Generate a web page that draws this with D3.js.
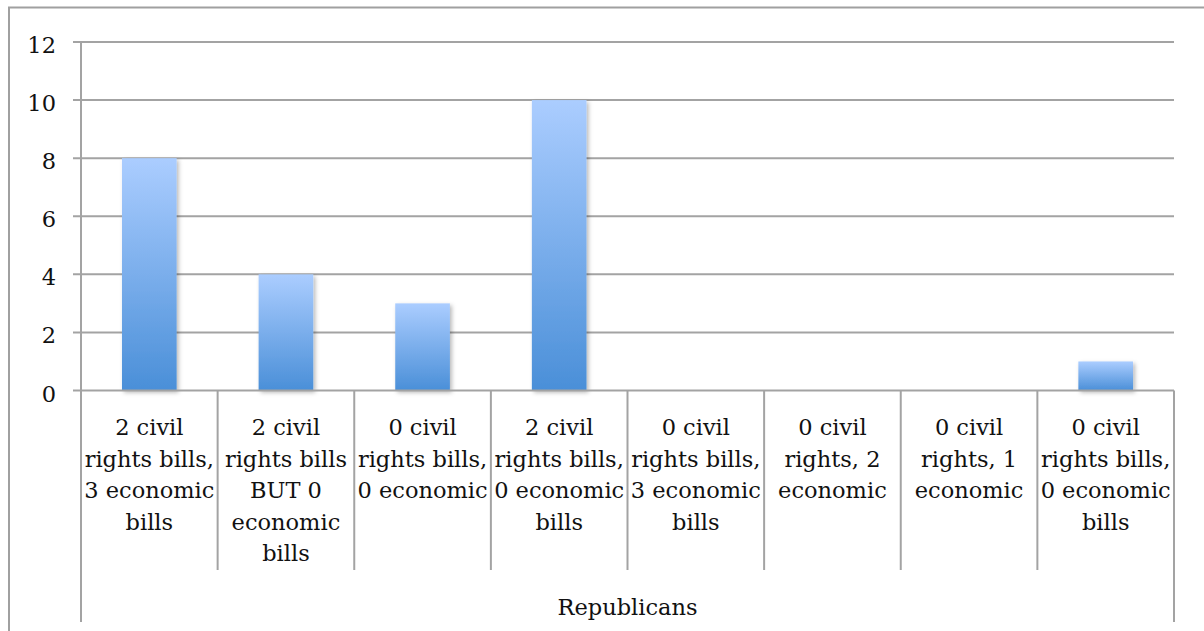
<!DOCTYPE html>
<html>
<head>
<meta charset="utf-8">
<script src="https://cdn.jsdelivr.net/npm/d3@7"></script>
<style>
  html, body { margin: 0; padding: 0; background: #fff; }
  svg { display: block; }
  text { font-family: "DejaVu Serif", serif; fill: #111; }
</style>
</head>
<body>
<svg id="chart" width="1204" height="631"></svg>
<script>
// Category labels, one array of lines per category
const categories = [
  ["2 civil", "rights bills,", "3 economic", "bills"],
  ["2 civil", "rights bills", "BUT 0", "economic", "bills"],
  ["0 civil", "rights bills,", "0 economic"],
  ["2 civil", "rights bills,", "0 economic", "bills"],
  ["0 civil", "rights bills,", "3 economic", "bills"],
  ["0 civil", "rights, 2", "economic"],
  ["0 civil", "rights, 1", "economic"],
  ["0 civil", "rights bills,", "0 economic", "bills"]
];
const values = [8, 4, 3, 10, 0, 0, 0, 1];
const groupLabel = "Republicans";
const yTicks = [0, 2, 4, 6, 8, 10, 12];

const svg = d3.select("#chart");
const plotLeft = 81, plotRight = 1174, plotTop = 42, plotBottom = 390.5;
const gridColor = "#a3a3a3";

// Outer frame
svg.append("rect")
  .attr("x", 9).attr("y", 7.5)
  .attr("width", 1220).attr("height", 660)
  .attr("fill", "none").attr("stroke", "#a0a0a0").attr("stroke-width", 2);

const keys = categories.map((c, i) => i);
const x = d3.scaleBand().domain(keys).range([plotLeft, plotRight])
  .paddingInner(0.6).paddingOuter(0.3);
const xc = d3.scaleBand().domain(keys).range([plotLeft, plotRight]).padding(0);
const y = d3.scaleLinear().domain([0, 12]).range([plotBottom, plotTop]);

// Gradient and shadow for bars
const defs = svg.append("defs");
const grad = defs.append("linearGradient").attr("id", "barGrad")
  .attr("x1", 0).attr("y1", 0).attr("x2", 0).attr("y2", 1);
grad.append("stop").attr("offset", "0%").attr("stop-color", "#abcdff");
grad.append("stop").attr("offset", "100%").attr("stop-color", "#4a8fd8");
const shadow = defs.append("filter").attr("id", "shadow")
  .attr("x", "-20%").attr("y", "-20%").attr("width", "140%").attr("height", "140%");
shadow.append("feDropShadow")
  .attr("dx", 2).attr("dy", 2).attr("stdDeviation", 2.2)
  .attr("flood-color", "#000").attr("flood-opacity", 0.28);

// Horizontal gridlines with left ticks
svg.append("g")
  .selectAll("line").data(yTicks.filter(t => t > 0)).join("line")
  .attr("x1", plotLeft - 8).attr("x2", plotRight)
  .attr("y1", d => y(d)).attr("y2", d => y(d))
  .attr("stroke", gridColor).attr("stroke-width", 2);

// Y tick labels
svg.append("g")
  .selectAll("text").data(yTicks).join("text")
  .attr("x", 56).attr("y", d => y(d) + 11)
  .attr("text-anchor", "end")
  .attr("font-size", "22.5px")
  .text(d => d);

// Bars
svg.append("g")
  .selectAll("rect").data(values.map((v, i) => ({ v, i })).filter(d => d.v > 0)).join("rect")
  .attr("x", d => x(d.i))
  .attr("width", x.bandwidth())
  .attr("y", d => y(d.v))
  .attr("height", d => y(0) - y(d.v))
  .attr("fill", "url(#barGrad)")
  .attr("filter", "url(#shadow)");

// Axis lines
svg.append("line")
  .attr("x1", plotLeft).attr("x2", plotLeft).attr("y1", plotTop).attr("y2", 622)
  .attr("stroke", gridColor).attr("stroke-width", 2);
svg.append("line")
  .attr("x1", plotLeft - 8).attr("x2", plotRight).attr("y1", y(0)).attr("y2", y(0))
  .attr("stroke", gridColor).attr("stroke-width", 2);
svg.append("line")
  .attr("x1", plotRight).attr("x2", plotRight).attr("y1", y(0)).attr("y2", 622)
  .attr("stroke", gridColor).attr("stroke-width", 2);

// Category dividers
svg.append("g")
  .selectAll("line").data(keys.slice(1)).join("line")
  .attr("x1", d => xc(d)).attr("x2", d => xc(d))
  .attr("y1", y(0)).attr("y2", 570)
  .attr("stroke", gridColor).attr("stroke-width", 2);

// Category labels
const lab = svg.append("g").selectAll("text").data(categories).join("text")
  .attr("text-anchor", "middle")
  .attr("font-size", "22.5px");
lab.selectAll("tspan").data((d, i) => d.map(line => ({ line, i }))).join("tspan")
  .attr("x", d => xc(d.i) + xc.bandwidth() / 2)
  .attr("y", (d, j) => 435 + j * 31.6)
  .text(d => d.line);

// Group label
svg.append("text")
  .attr("x", (plotLeft + plotRight) / 2).attr("y", 615)
  .attr("text-anchor", "middle")
  .attr("font-size", "22.5px")
  .text(groupLabel);
</script>
</body>
</html>
